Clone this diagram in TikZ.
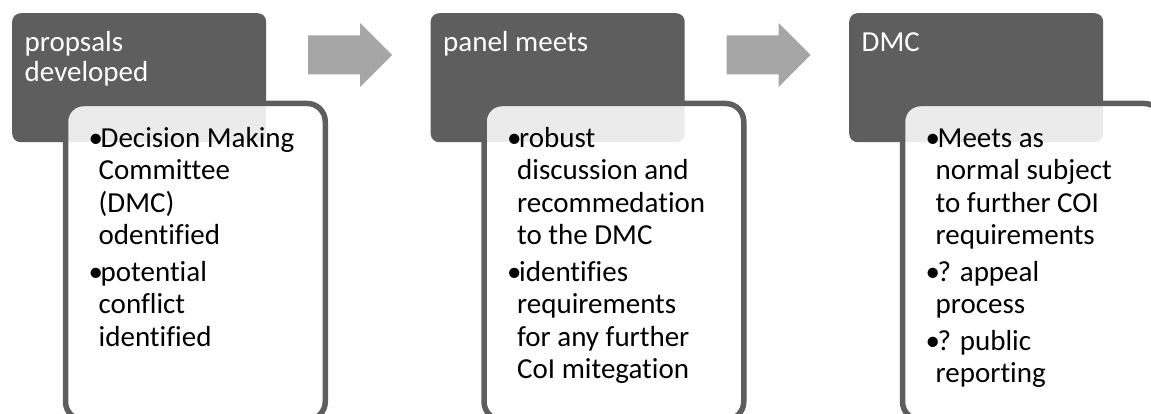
\documentclass[tikz,border=0pt]{standalone}
\usepackage{fontspec}
\setmainfont[Ligatures={NoCommon}]{Carlito}

\definecolor{panelgray}{HTML}{5E5E5E}
\definecolor{arrowgray}{HTML}{A6A6A6}

% bullet with hanging indent for the list lines
\newcommand\bitem{\makebox[12pt][l]{\textbullet}}
\newcommand\bcont{\hspace*{10pt}}

\tikzset{
  titlebox/.style={fill=panelgray, rounded corners=8.5pt, minimum width=254pt,
    minimum height=129pt, inner sep=0pt, anchor=north west},
  listbox/.style={draw=panelgray, line width=5.5pt, fill=white, fill opacity=0.88,
    draw opacity=1, rounded corners=18pt, minimum width=259.75pt,
    minimum height=316.25pt, inner sep=0pt, anchor=north west},
  titletext/.style={text=white, font=\fontsize{29}{30}\selectfont, inner sep=0pt,
    anchor=base west},
  bodytext/.style={text=black, font=\fontsize{29}{32.5}\selectfont, inner sep=0pt,
    anchor=base west},
  blockarrow/.pic={
    \fill[arrowgray] (-42,-19.5) -- (10,-19.5) -- (10,-32) -- (42,0)
      -- (10,32) -- (10,19.5) -- (-42,19.5) -- cycle;
  }
}

\begin{document}
\begin{tikzpicture}[x=1pt,y=-1pt]
  \useasboundingbox (0,0) rectangle (1151,414);
  \clip (0,0) rectangle (1151,414);

  % step headers
  \node[titlebox] (t1) at (12,13) {};
  \node[titlebox] (t2) at (430.5,13) {};
  \node[titlebox] (t3) at (849,13) {};

  % arrows between the steps
  \pic at (350,55) {blockarrow};
  \pic at (768.5,55) {blockarrow};

  % detail panels
  \node[listbox] (l1) at (62.75,100.75) {};
  \node[listbox] (l2) at (481.25,100.75) {};
  \node[listbox] (l3) at (899.75,100.75) {};

  % header texts
  \node[titletext] (h1) at (24.5,52) {\vtop{\hbox{propsals}\hbox{developed}}};
  \node[titletext] (h2) at (443,52) {\vtop{\hbox{panel meets}}};
  \node[titletext] (h3) at (861.5,52) {\vtop{\hbox{DMC}}};

  % panel texts
  \node[bodytext] (b1) at (88.5,147.5) {\vtop{%
    \hbox{\bitem Decision Making}\hbox{\bcont Committee}%
    \hbox{\bcont (DMC)}\hbox{\bcont odentified}\vskip4pt
    \hbox{\bitem potential}\hbox{\bcont conflict}\hbox{\bcont identified}}};
  \node[bodytext] (b2) at (507,147.5) {\vtop{%
    \hbox{\bitem robust}\hbox{\bcont discussion and}%
    \hbox{\bcont recommedation}\hbox{\bcont to the DMC}\vskip4pt
    \hbox{\bitem identifies}\hbox{\bcont requirements}%
    \hbox{\bcont for any further}\hbox{\bcont CoI mitegation}}};
  \node[bodytext] (b3) at (925.5,147.5) {\vtop{%
    \hbox{\bitem Meets as}\hbox{\bcont normal subject}%
    \hbox{\bcont to further COI}\hbox{\bcont requirements}\vskip4pt
    \hbox{\bitem ? appeal}\hbox{\bcont process}\vskip4pt
    \hbox{\bitem ? public}\hbox{\bcont reporting}}};
\end{tikzpicture}
\end{document}
